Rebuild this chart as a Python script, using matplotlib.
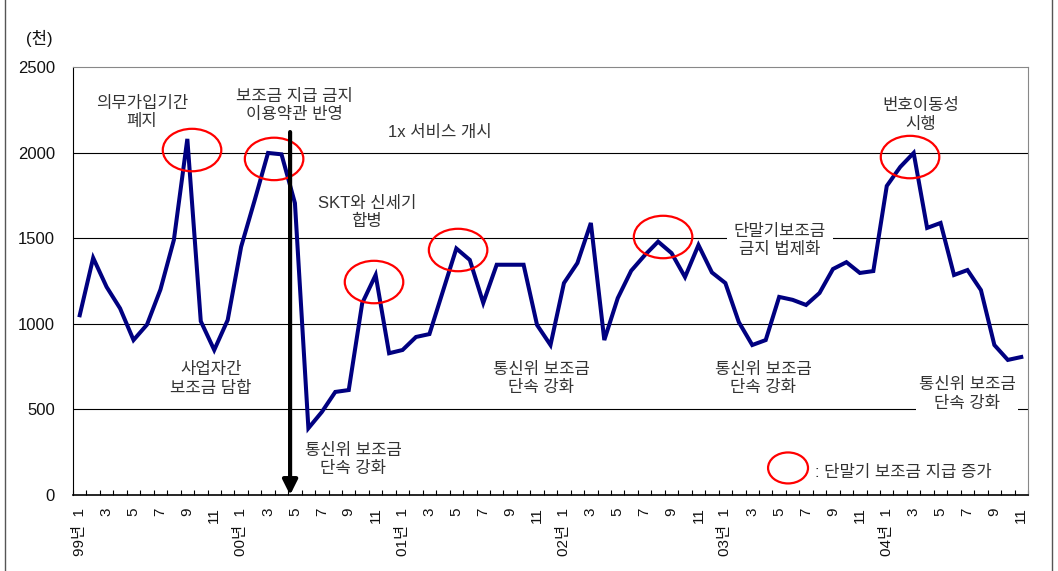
import matplotlib
matplotlib.use('Agg')
import matplotlib.pyplot as plt
from matplotlib.patches import Ellipse
from matplotlib.lines import Line2D

plt.rcParams['font.family'] = ['Liberation Sans', 'Noto Sans CJK KR', 'DejaVu Sans']

# monthly data, 99/1 .. 04/11 (unit: thousand)
years = ['99년', '00년', '01년', '02년', '03년', '04년']
values = [1050, 1385, 1215, 1090, 905, 995, 1200, 1490, 2080, 1015, 847, 1022,
          1450, 1720, 1998, 1990, 1705, 390, 485, 602, 613, 1120, 1285, 828,
          847, 923, 940, 1190, 1440, 1373, 1122, 1345, 1345, 1345, 993, 876,
          1238, 1355, 1589, 905, 1150, 1310, 1400, 1480, 1413, 1273, 1460, 1300,
          1238, 1010, 876, 905, 1157, 1140, 1110, 1180, 1320, 1360, 1297, 1308,
          1805, 1916, 1998, 1560, 1589, 1285, 1314, 1197, 876, 789, 806]

# circled peaks (month index, value)
peaks_x = [8.35, 14.45, 21.88, 28.13, 43.37, 61.73]
peaks_y = [2015, 1963, 1244, 1431, 1507, 1974]

W, H = 1058, 571
fig = plt.figure(figsize=(W / 100, H / 100), dpi=100)
ax = fig.add_axes([73 / W, 1 - 495 / H, (1028 - 73) / W, (495 - 67) / H])

x = list(range(len(values)))
ax.plot(x, values, color='#000080', lw=2.9, solid_joinstyle='miter', zorder=3)

ax.set_xlim(-0.5, len(values) - 0.5)
ax.set_ylim(0, 2500)

# y axis
ax.set_yticks([0, 500, 1000, 1500, 2000, 2500])
ax.tick_params(axis='y', length=0, pad=13, labelsize=12, labelcolor='#111111')
for v in [500, 1000, 1500, 2000]:
    ax.axhline(v, color='black', lw=0.8, zorder=1)

# x axis
ticks = list(range(0, len(values), 2))
labels = []
for i in ticks:
    m = i % 12 + 1
    labels.append(f'{years[i // 12]}  {m}' if m == 1 else str(m))
ax.set_xticks(ticks)
ax.set_xticklabels(labels, rotation=90, fontsize=11, color='#111111')
ax.set_xticks([i - 0.5 for i in range(len(values) + 1)], minor=True)
ax.tick_params(axis='x', which='major', length=0, pad=9)
ax.tick_params(axis='x', which='minor', direction='in', length=3.8, width=0.8)

ax.spines['left'].set_color('black')
ax.spines['bottom'].set_color('black')
ax.spines['bottom'].set_linewidth(1.2)
ax.spines['top'].set_color('#888888')
ax.spines['right'].set_color('#888888')

# red circles
for cx, cy in zip(peaks_x, peaks_y):
    ax.add_patch(Ellipse((cx, cy), 4.35, 248, fill=False, ec='red', lw=1.6, zorder=4))
ax.add_patch(Ellipse((52.66, 158), 2.97, 181, fill=False, ec='red', lw=1.6, zorder=4))

# arrow
ax.annotate('', xy=(15.64, 0), xytext=(15.64, 2120),
            arrowprops=dict(arrowstyle='-|>', lw=3, color='black',
                            mutation_scale=22, shrinkA=0, shrinkB=0),
            zorder=5, annotation_clip=False)


def px(x, y):
    return x / W, 1 - y / H


tc = '#333333'
notes = [
    (142, 112.5, '의무가입기간\n폐지', None),
    (294, 105.5, '보조금 지급 금지\n이용약관 반영', None),
    (440, 132, '1x 서비스 개시', None),
    (367, 212.5, 'SKT와 신세기\n합병', None),
    (780, 240.5, '단말기보조금\n금지 법제화', 5),
    (921, 115, '번호이동성\n시행', None),
    (211, 379, '사업자간\n보조금 담합', None),
    (353, 459.5, '통신위 보조금\n단속 강화', None),
    (541, 378.5, '통신위 보조금\n단속 강화', None),
    (763, 378.5, '통신위 보조금\n단속 강화', None),
    (967, 394, '통신위 보조금\n단속 강화', 2),
]
for nx, ny, s, pad in notes:
    kw = {}
    if pad:
        kw['bbox'] = dict(facecolor='white', edgecolor='none', pad=pad)
    fig.text(*px(nx, ny), s, ha='center', va='center', fontsize=12,
             color=tc, linespacing=1.3, zorder=6, **kw)

fig.text(*px(815, 472), ': 단말기 보조금 지급 증가', ha='left', va='center',
         fontsize=12, color=tc)
fig.text(*px(39, 38), '(천)', ha='center', va='center', fontsize=12, color='#111111')

# outer frame
fig.add_artist(Line2D([5 / W, 5 / W], [0, 1], color='#555555', lw=1))
fig.add_artist(Line2D([1052 / W, 1052 / W], [0, 1], color='#555555', lw=1))

fig.savefig('out.png', dpi=100)
